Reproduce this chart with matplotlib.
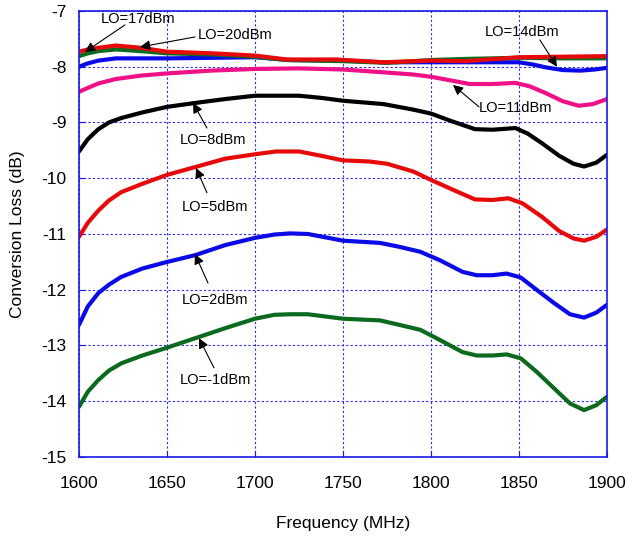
import matplotlib.pyplot as plt

plt.rcParams['font.family'] = ['Liberation Sans', 'DejaVu Sans']
plt.rcParams['axes.unicode_minus'] = False

# curves (frequency in MHz, conversion loss in dB)
f_m1 = [1600, 1605, 1611, 1617, 1624, 1636, 1649, 1666, 1683, 1700, 1711, 1720, 1730, 1750, 1771, 1782,
        1794, 1805, 1818, 1826, 1835, 1843, 1851, 1860, 1870, 1879, 1887, 1894, 1900]
lo_m1 = [-14.10, -13.83, -13.62, -13.45, -13.32, -13.18, -13.05, -12.87, -12.69, -12.52, -12.45, -12.44, -12.44,
         -12.52, -12.55, -12.63, -12.72, -12.90, -13.12, -13.18, -13.18, -13.16, -13.23, -13.47, -13.77, -14.04,
         -14.16, -14.07, -13.92]

f_2 = [1600, 1605, 1611, 1617, 1624, 1636, 1649, 1666, 1683, 1700, 1711, 1720, 1730, 1750, 1771, 1782,
       1794, 1805, 1818, 1826, 1835, 1843, 1851, 1860, 1870, 1879, 1887, 1894, 1900]
lo_2 = [-12.63, -12.30, -12.06, -11.91, -11.77, -11.62, -11.51, -11.38, -11.20, -11.07, -11.01, -10.99, -11.00,
        -11.12, -11.16, -11.23, -11.32, -11.47, -11.68, -11.74, -11.74, -11.71, -11.78, -12.00, -12.24, -12.44,
        -12.50, -12.41, -12.27]

f_5 = [1600, 1605, 1611, 1617, 1624, 1636, 1650, 1666, 1683, 1700, 1712, 1725, 1738, 1750, 1765, 1775,
       1790, 1800, 1812, 1825, 1835, 1844, 1852, 1863, 1873, 1881, 1887, 1894, 1900]
lo_5 = [-11.05, -10.80, -10.58, -10.40, -10.25, -10.10, -9.94, -9.80, -9.65, -9.57, -9.52, -9.52, -9.60,
        -9.68, -9.70, -9.74, -9.88, -10.03, -10.20, -10.38, -10.39, -10.36, -10.45, -10.69, -10.95, -11.08,
        -11.12, -11.05, -10.92]

f_8 = [1600, 1605, 1611, 1617, 1624, 1636, 1650, 1666, 1683, 1700, 1725, 1738, 1750, 1773, 1790, 1800,
       1812, 1825, 1835, 1848, 1855, 1863, 1873, 1881, 1887, 1894, 1900]
lo_8 = [-9.52, -9.30, -9.12, -9.00, -8.92, -8.82, -8.72, -8.65, -8.58, -8.52, -8.52, -8.56, -8.61, -8.67,
        -8.77, -8.84, -8.98, -9.12, -9.13, -9.10, -9.20, -9.37, -9.60, -9.74, -9.79, -9.72, -9.58]

f_11 = [1600, 1605, 1611, 1621, 1635, 1650, 1675, 1700, 1725, 1750, 1773, 1790, 1800, 1812, 1822, 1835,
        1848, 1856, 1865, 1875, 1884, 1892, 1900]
lo_11 = [-8.45, -8.38, -8.30, -8.22, -8.16, -8.12, -8.07, -8.04, -8.03, -8.05, -8.10, -8.14, -8.18, -8.25,
         -8.31, -8.31, -8.29, -8.35, -8.47, -8.62, -8.70, -8.67, -8.58]

f_14 = [1600, 1605, 1611, 1621, 1650, 1700, 1720, 1750, 1773, 1800, 1825, 1850, 1858, 1865, 1875, 1885, 1893, 1900]
lo_14 = [-8.00, -7.94, -7.89, -7.85, -7.85, -7.83, -7.88, -7.89, -7.92, -7.92, -7.92, -7.92, -7.96, -8.01,
         -8.06, -8.07, -8.05, -8.02]

f_17 = [1600, 1605, 1611, 1621, 1635, 1650, 1676, 1700, 1718, 1750, 1775, 1800, 1820, 1850, 1875, 1900]
lo_17 = [-7.81, -7.76, -7.72, -7.69, -7.72, -7.76, -7.78, -7.82, -7.88, -7.90, -7.93, -7.88, -7.86, -7.84,
         -7.85, -7.85]

f_20 = [1600, 1605, 1611, 1621, 1635, 1650, 1676, 1700, 1718, 1746, 1773, 1800, 1820, 1850, 1875, 1900]
lo_20 = [-7.73, -7.69, -7.66, -7.62, -7.66, -7.73, -7.76, -7.80, -7.87, -7.87, -7.92, -7.89, -7.90, -7.83,
         -7.82, -7.81]

# label, text position, arrow tail, arrow tip
labels = ['LO=17dBm', 'LO=20dBm', 'LO=14dBm', 'LO=11dBm', 'LO=8dBm', 'LO=5dBm', 'LO=2dBm', 'LO=-1dBm']
text_pos = [(1633.5, -7.14), (1688.6, -7.43), (1851.7, -7.377), (1848.3, -8.74),
            (1676.1, -9.31), (1677.0, -10.52), (1677.3, -12.18), (1677.6, -13.62)]
arrow_tail = [(1626.1, -7.25), (1665.9, -7.466), (1861.9, -7.52), (1827.3, -8.72),
              (1672.7, -9.10), (1672.7, -10.26), (1673.3, -11.88), (1676.7, -13.40)]
arrow_tip = [(1603.4, -7.735), (1634.7, -7.646), (1871.6, -8.0), (1812.5, -8.327),
             (1664.8, -8.65), (1666.5, -9.816), (1665.9, -11.36), (1668.2, -12.87)]

fig = plt.figure(figsize=(6.27, 5.38), dpi=100)
ax = fig.add_axes([0.126, 0.1506, 0.842, 0.829])

lw = 3.0
style = dict(lw=lw, solid_joinstyle='round', solid_capstyle='round')
ax.plot(f_m1, lo_m1, color='#0b6a1e', **style)
ax.plot(f_2, lo_2, color='#0a0ae6', **style)
ax.plot(f_5, lo_5, color='#e60a0a', **style)
ax.plot(f_8, lo_8, color='black', **style)
ax.plot(f_11, lo_11, color='#ee1188', **style)
ax.plot(f_14, lo_14, color='#0a0ae6', **style)
ax.plot(f_17, lo_17, color='#0b6a1e', **style)
ax.plot(f_20, lo_20, color='#e60a0a', **style)

for lab, tp, tail, tip in zip(labels, text_pos, arrow_tail, arrow_tip):
    ax.annotate('', xy=tip, xytext=tail,
                arrowprops=dict(arrowstyle='-|>', color='black', lw=0.8,
                                mutation_scale=15, shrinkA=0, shrinkB=0))
    ax.text(tp[0], tp[1], lab, fontsize=10.5, ha='center', va='center', clip_on=False)

ax.set_xlim(1600, 1900)
ax.set_ylim(-15, -7)
ax.set_xticks([1600, 1650, 1700, 1750, 1800, 1850, 1900])
ax.set_yticks([-15, -14, -13, -12, -11, -10, -9, -8, -7])
ax.grid(True, color='#2a2af0', linestyle=(0, (2, 2)), lw=0.8)
for s in ax.spines.values():
    s.set_color('#1a1ae8')
    s.set_linewidth(1.2)
ax.tick_params(axis='both', direction='in', length=4, color='#1a1ae8', labelsize=12.5)
ax.tick_params(axis='x', pad=14)
ax.tick_params(axis='y', pad=9)

ax.set_xlabel('Frequency (MHz)', fontsize=12.5, labelpad=18)
ax.set_ylabel('Conversion Loss (dB)', fontsize=12.5, labelpad=12)

plt.savefig('out.png', dpi=100)
